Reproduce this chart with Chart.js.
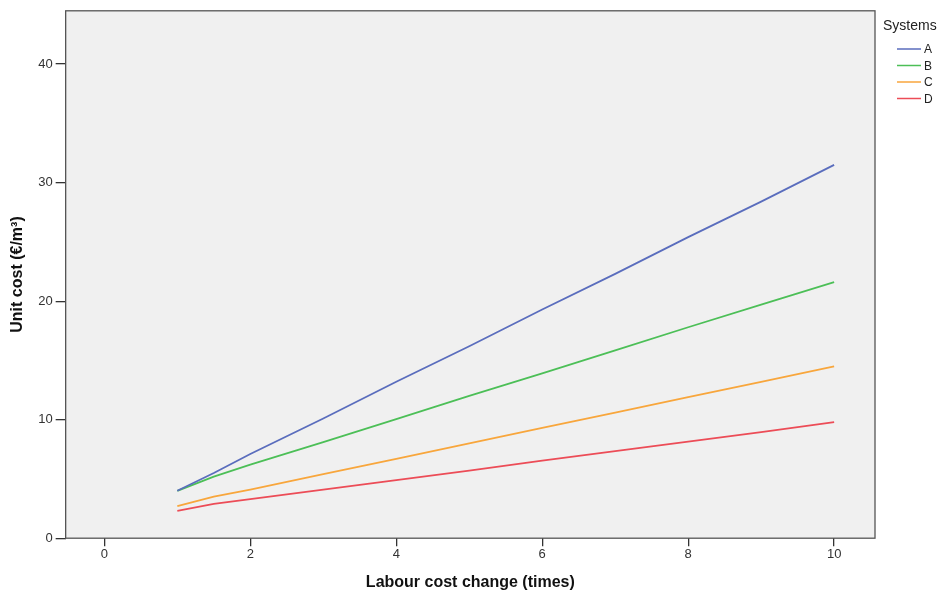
<!DOCTYPE html>
<html>
<head>
<meta charset="utf-8">
<script src="https://cdn.jsdelivr.net/npm/chart.js@4/dist/chart.umd.min.js"></script>
<style>
  html, body { margin: 0; padding: 0; background: #fff; }
  #wrap { width: 950px; height: 593px; }
</style>
</head>
<body>
<div id="wrap"><canvas id="lineChart"></canvas></div>
<script>
const labourChange = [1, 1.5, 2, 3, 4, 5, 6, 7, 8, 9, 10];
const systemA = [4.0, 5.5, 7.1, 10.1, 13.2, 16.2, 19.3, 22.3, 25.4, 28.4, 31.5];
const systemB = [4.0, 5.2, 6.2, 8.1, 10.05, 12.0, 13.9, 15.85, 17.8, 19.7, 21.6];
const systemC = [2.7, 3.5, 4.1, 5.4, 6.7, 8.0, 9.3, 10.6, 11.9, 13.2, 14.5];
const systemD = [2.3, 2.9, 3.3, 4.1, 4.9, 5.7, 6.55, 7.35, 8.15, 8.95, 9.8];
const systemNames = ["A", "B", "C", "D"];
const xTicks = [0, 2, 4, 6, 8, 10];
const yTicks = [0, 10, 20, 30, 40];

const colors = ["#5a6dbd", "#4cbf57", "#f8a63c", "#ec4c57"];
const series = [systemA, systemB, systemC, systemD];

const toPoints = (ys) => ys.map((y, i) => ({ x: labourChange[i], y: y }));

// plot area background + frame
const plotBg = {
  id: "plotBg",
  beforeDraw(chart) {
    const { ctx, chartArea: a } = chart;
    ctx.save();
    ctx.fillStyle = "#f0f0f0";
    ctx.fillRect(a.left, a.top, a.right - a.left, a.bottom - a.top);
    ctx.restore();
  },
  afterDraw(chart) {
    const { ctx, chartArea: a } = chart;
    ctx.save();
    ctx.strokeStyle = "#555";
    ctx.lineWidth = 1.3;
    ctx.strokeRect(a.left, a.top, a.right - a.left, a.bottom - a.top);
    ctx.restore();
  },
};

// SPSS-like legend on the right
const sideLegend = {
  id: "sideLegend",
  afterDraw(chart) {
    const ctx = chart.ctx;
    const x0 = chart.chartArea.right + 8;
    ctx.save();
    ctx.fillStyle = "#222";
    ctx.font = "14px Arial, 'Liberation Sans', sans-serif";
    ctx.textBaseline = "middle";
    ctx.fillText("Systems", x0, 26);
    ctx.font = "12px Arial, 'Liberation Sans', sans-serif";
    chart.data.datasets.forEach((ds, i) => {
      const y = 49 + i * 16.5;
      ctx.strokeStyle = ds.borderColor;
      ctx.lineWidth = 1.5;
      ctx.beginPath();
      ctx.moveTo(x0 + 14, y);
      ctx.lineTo(x0 + 38, y);
      ctx.stroke();
      ctx.fillStyle = "#222";
      ctx.fillText(ds.label, x0 + 41, y + 1);
    });
    ctx.restore();
  },
};

const ctx = document.getElementById("lineChart");

new Chart(ctx, {
  type: "line",
  data: {
    datasets: systemNames.map((name, i) => ({
      label: name,
      data: toPoints(series[i]),
      borderColor: colors[i],
      backgroundColor: colors[i],
      borderWidth: 1.8,
      pointRadius: 0,
      tension: 0,
    })),
  },
  options: {
    responsive: true,
    maintainAspectRatio: false,
    animation: false,
    layout: { padding: { top: 4, right: 75, bottom: 1, left: 8 } },
    plugins: {
      legend: { display: false },
      tooltip: { enabled: false },
    },
    scales: {
      x: {
        type: "linear",
        min: -0.53,
        max: 10.56,
        afterBuildTicks: (s) => { s.ticks = xTicks.map((v) => ({ value: v })); },
        grid: { drawOnChartArea: false, drawTicks: true, tickLength: 8, color: "#333", lineWidth: 1.3 },
        border: { display: false },
        ticks: { color: "#333", font: { size: 13, family: "Arial, 'Liberation Sans', sans-serif" }, padding: 0, maxRotation: 0 },
        title: {
          display: true,
          text: "Labour cost change (times)",
          color: "#111",
          font: { size: 16, weight: "bold", family: "Arial, 'Liberation Sans', sans-serif" },
          padding: { top: 11, bottom: 0 },
        },
      },
      y: {
        type: "linear",
        min: 0,
        max: 44.5,
        afterBuildTicks: (s) => { s.ticks = yTicks.map((v) => ({ value: v })); },
        grid: { drawOnChartArea: false, drawTicks: true, tickLength: 10, color: "#333", lineWidth: 1.3 },
        border: { display: false },
        ticks: { color: "#333", font: { size: 13, family: "Arial, 'Liberation Sans', sans-serif" }, padding: 3 },
        title: {
          display: true,
          text: "Unit cost (€/m³)",
          color: "#111",
          font: { size: 16, weight: "bold", family: "Arial, 'Liberation Sans', sans-serif" },
          padding: { top: 0, bottom: 8 },
        },
      },
    },
  },
  plugins: [plotBg, sideLegend],
});
</script>
</body>
</html>
